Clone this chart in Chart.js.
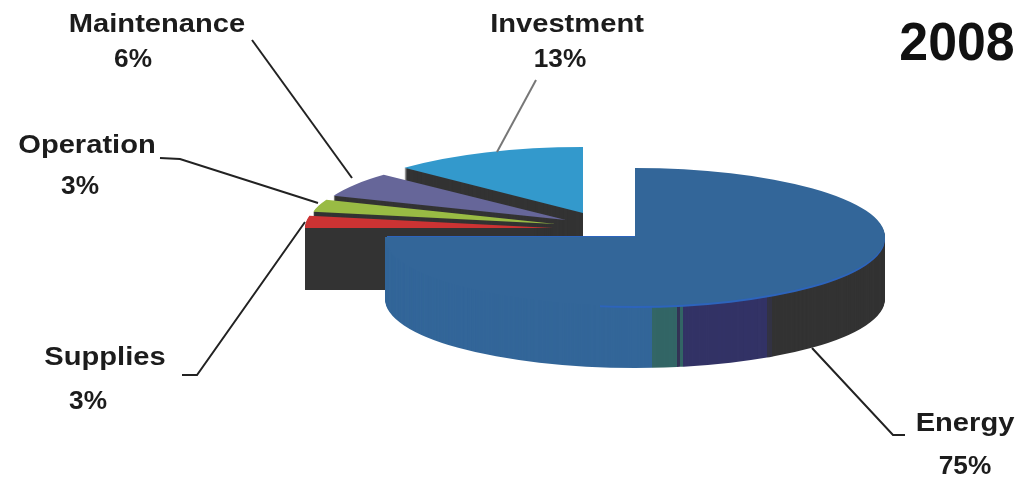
<!DOCTYPE html>
<html>
<head>
<meta charset="utf-8">
<style>html,body{margin:0;padding:0;background:#fff}canvas{display:block}</style>
<script src="https://cdn.jsdelivr.net/npm/chart.js@4"></script>
</head>
<body>
<canvas id="c" width="1021" height="482"></canvas>
<script>
const categories = ['Energy', 'Supplies', 'Operation', 'Maintenance', 'Investment'];
const shares = [75, 3, 3, 6, 13];
const yearLabel = '2008';

const topColors = ['#336699', '#cc3333', '#99bb44', '#666699', '#3399cc'];
const sliceGeometry = [
  {x: 635, y: 237, rx: 250, ry: 69},
  {x: 553, y: 228, rx: 248, ry: 66},
  {x: 556, y: 224, rx: 247, ry: 66},
  {x: 566, y: 220, rx: 250, ry: 66},
  {x: 583, y: 213, rx: 245, ry: 66}
];
const wallColor = '#333333';
const rimColor = '#2d64bc';
const energyWallBands = [
  [0, 652, '#336699'], [652, 677, '#336666'], [677, 680, '#333355'], [680, 683, '#336666'],
  [683, 767, '#333366'], [767, 772, '#333344'], [772, 1021, '#333333']
];
const depth = 62, radius = 250;

const labelLayout = [
  {name: [965, 424], pct: [965, 467], line: [[812, 348], [893, 435], [905, 435]]},
  {name: [105, 358], pct: [88, 402], line: [[182, 375], [197, 375], [305, 222]]},
  {name: [87, 146], pct: [80, 187], line: [[160, 158], [180, 159], [318, 203]]},
  {name: [157, 25], pct: [133, 60], line: [[252, 40], [352, 178]]},
  {name: [567, 25], pct: [560, 60], line: [[536, 80], [497, 152]]}
];

function paint(ctx, arc, geo, color, drop) {
  const saved = arc.options;
  arc.options = {...saved, backgroundColor: color, borderColor: color, borderWidth: 0};
  ctx.save();
  ctx.translate(geo.x, geo.y + drop);
  ctx.scale(geo.rx / radius, geo.ry / radius);
  ctx.translate(-arc.x, -arc.y);
  arc.draw(ctx);
  ctx.restore();
  arc.options = saved;
}
function clipped(ctx, x, y, w, h, fn) {
  ctx.save();
  ctx.beginPath();
  ctx.rect(x, y, w, h);
  ctx.clip();
  fn();
  ctx.restore();
}
function stretched(ctx, text, x, y, font, sx) {
  ctx.save();
  ctx.translate(x, y);
  ctx.scale(sx, 1);
  ctx.font = font;
  ctx.textAlign = 'center';
  ctx.textBaseline = 'middle';
  ctx.fillText(text, 0, 0);
  ctx.restore();
}

const pie3d = {
  id: 'pie3d',
  beforeDatasetsDraw(chart) {
    const ctx = chart.ctx, arcs = chart.getDatasetMeta(0).data;
    for (let i = arcs.length - 1; i >= 1; i--) {
      for (let d = depth; d >= 1; d--) paint(ctx, arcs[i], sliceGeometry[i], wallColor, d);
      paint(ctx, arcs[i], sliceGeometry[i], topColors[i], 0);
    }
    const g = sliceGeometry[0];
    energyWallBands.forEach(([x0, x1, color]) => {
      clipped(ctx, x0, 0, x1 - x0, chart.height, () => {
        for (let d = depth; d >= 1; d--) paint(ctx, arcs[0], g, color, d);
      });
    });
    clipped(ctx, 600, 0, 421, chart.height, () => paint(ctx, arcs[0], g, rimColor, 2));
    clipped(ctx, 387, 0, 248, chart.height, () => paint(ctx, arcs[0], g, rimColor, -1));
    paint(ctx, arcs[0], g, topColors[0], 0);
  },
  beforeDatasetDraw() { return false; },
  afterDatasetsDraw(chart) {
    const ctx = chart.ctx;
    ctx.save();
    ctx.fillStyle = '#1c1c1c';
    ctx.lineWidth = 2;
    categories.forEach((cat, i) => {
      const l = labelLayout[i];
      ctx.strokeStyle = i === 4 ? '#777' : '#222';
      ctx.beginPath();
      l.line.forEach(([x, y], k) => k ? ctx.lineTo(x, y) : ctx.moveTo(x, y));
      ctx.stroke();
      stretched(ctx, cat, l.name[0], l.name[1], 'bold 26px "Liberation Sans"', 1.12);
      stretched(ctx, shares[i] + '%', l.pct[0], l.pct[1], 'bold 25px "Liberation Sans"', 1.05);
    });
    ctx.fillStyle = '#111';
    stretched(ctx, yearLabel, 957, 45, 'bold 54px "Liberation Sans"', 0.96);
    ctx.restore();
  }
};

new Chart(document.getElementById('c'), {
  type: 'pie',
  data: {
    labels: categories,
    datasets: [{data: shares, backgroundColor: topColors, borderWidth: 0}]
  },
  options: {
    responsive: false,
    animation: false,
    radius: radius,
    layout: {padding: 0},
    plugins: {legend: {display: false}, tooltip: {enabled: false}, title: {display: false}}
  },
  plugins: [pie3d]
});
</script>
</body>
</html>
